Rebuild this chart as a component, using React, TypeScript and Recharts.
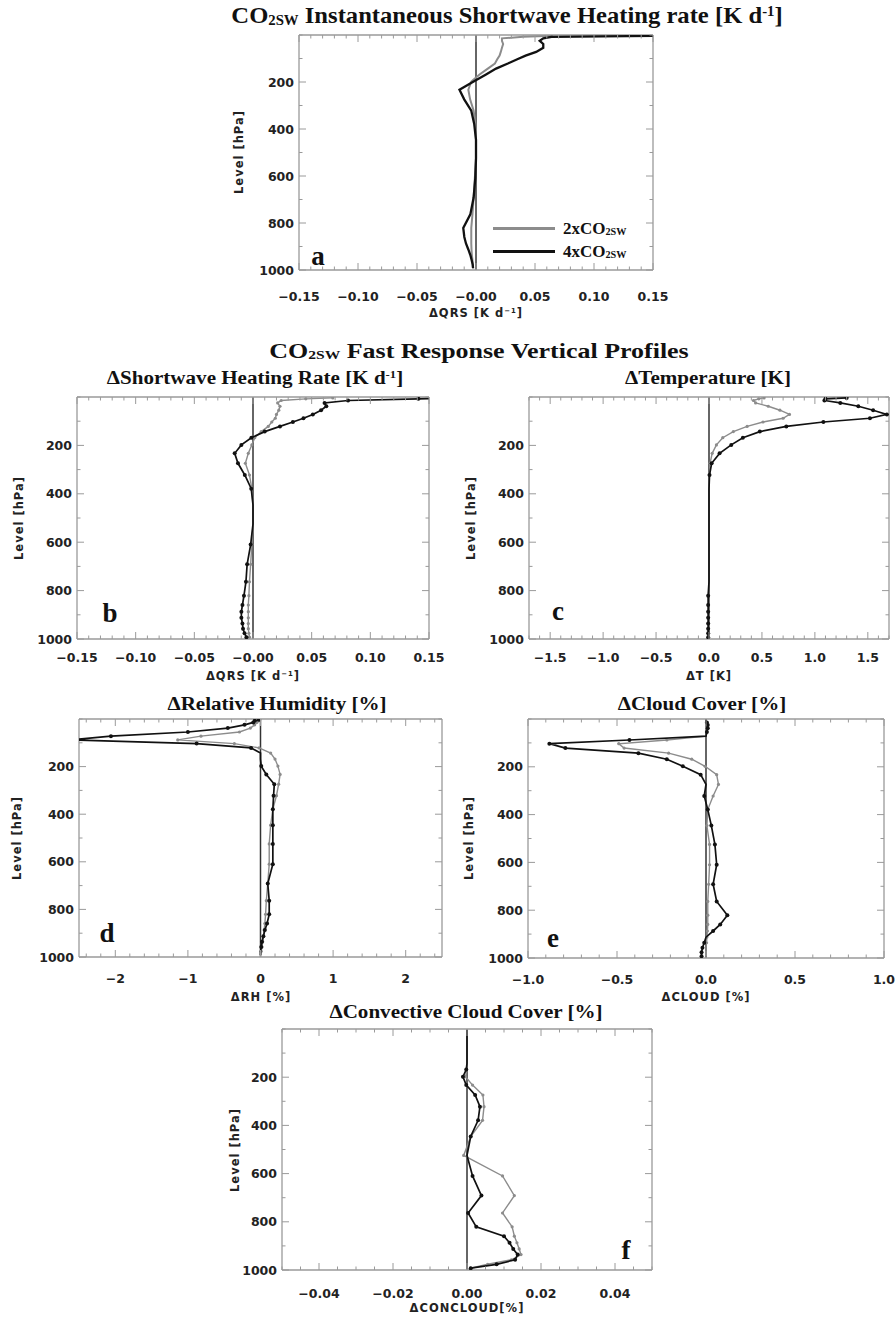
import React from "react";
import { ScatterChart, Scatter, XAxis, YAxis, ReferenceLine } from "recharts";

// model mid-levels (hPa)
const levels = [3.64, 7.59, 14.36, 24.61, 38.27, 54.6, 72.01, 87.82, 103.32, 121.55, 142.99, 168.23, 197.91, 232.83, 273.91, 322.24, 379.1, 445.99, 524.69, 609.78, 691.39, 763.4, 820.86, 859.53, 887.02, 912.64, 936.2, 957.49, 976.33, 992.56];

// a: instantaneous QRS
const qrsInst2x = [0.065, 0.04, 0.022, 0.022, 0.023, 0.022, 0.021, 0.02, 0.018, 0.016, 0.01, 0.003, -0.004, -0.0065, -0.005, -0.002, -0.0005, 0, 0, -0.001, -0.002, -0.003, -0.004, -0.004, -0.004, -0.0038, -0.0035, -0.003, -0.0028, -0.0025];
const qrsInst4x = [0.16, 0.064, 0.057, 0.054, 0.057, 0.057, 0.051, 0.042, 0.035, 0.027, 0.017, 0.0085, -0.002, -0.014, -0.01, -0.004, -0.0015, 0, 0, -0.0006, -0.002, -0.0048, -0.0108, -0.0099, -0.0085, -0.0065, -0.0048, -0.0037, -0.0028, -0.0025];

// b: fast response QRS
const qrs2x = [0.068, 0.045, 0.024, 0.021, 0.023, 0.022, 0.02, 0.019, 0.016, 0.013, 0.007, 0.0015, -0.001, -0.004, -0.0065, -0.003, -0.001, 0, 0, -0.001, -0.002, -0.003, -0.0035, -0.004, -0.004, -0.004, -0.004, -0.004, -0.0035, -0.003];
const qrs4x = [0.17, 0.141, 0.081, 0.061, 0.0625, 0.058, 0.051, 0.043, 0.034, 0.023, 0.01, -0.0014, -0.0099, -0.0156, -0.0128, -0.007, -0.0015, 0, 0, -0.002, -0.005, -0.006, -0.0077, -0.009, -0.0099, -0.0099, -0.009, -0.0085, -0.0072, -0.0056];

// c: temperature
const t2x = [0.52, 0.47, 0.42, 0.44, 0.56, 0.67, 0.76, 0.7, 0.51, 0.36, 0.23, 0.13, 0.07, 0.03, 0.01, 0.003, 0, 0, 0, 0, 0, 0, -0.005, -0.005, -0.005, -0.005, -0.005, -0.005, -0.005, -0.005];
const t4x = [1.3, 1.1, 1.09, 1.24, 1.41, 1.55, 1.68, 1.52, 1.08, 0.73, 0.48, 0.32, 0.21, 0.1, 0.025, 0.005, 0, 0, 0, 0, 0, 0, -0.008, -0.008, -0.008, -0.008, -0.008, -0.008, -0.008, -0.008];

// d: relative humidity
const rh2x = [-0.01, -0.03, -0.05, -0.08, -0.14, -0.29, -0.82, -1.14, -0.36, -0.02, 0.14, 0.2, 0.24, 0.27, 0.25, 0.22, 0.17, 0.14, 0.12, 0.12, 0.1, 0.08, 0.07, 0.06, 0.05, 0.04, 0.03, 0.02, 0.01, 0];
const rh4x = [-0.02, -0.08, -0.1, -0.22, -0.45, -1.0, -2.06, -2.62, -0.88, -0.13, 0, 0, 0.01, 0.08, 0.19, 0.18, 0.17, 0.17, 0.17, 0.17, 0.1, 0.12, 0.12, 0.09, 0.06, 0.04, 0.02, 0.01, 0, 0];

// e: cloud cover
const cld2x = [0, 0, 0, 0, 0, 0, 0, -0.22, -0.49, -0.46, -0.21, -0.08, -0.005, 0.06, 0.07, 0.04, 0.01, 0.005, 0.02, 0.02, 0.015, 0.01, 0.01, 0.01, 0.008, 0.005, 0.003, 0, 0, 0];
const cld4x = [0, 0, 0.005, 0.01, 0.01, 0.005, 0, -0.43, -0.88, -0.79, -0.38, -0.22, -0.13, -0.03, 0, -0.01, 0.01, 0.03, 0.05, 0.06, 0.04, 0.06, 0.12, 0.08, 0.04, 0, -0.01, -0.02, -0.025, -0.025];

// f: convective cloud cover
const conc2x = [0, 0, 0, 0, 0, 0, 0, 0, 0, 0, 0, 0, -0.0004, 0.0015, 0.0043, 0.0046, 0.0042, 0.001, -0.0009, 0.0096, 0.0128, 0.0096, 0.0122, 0.0128, 0.0135, 0.0141, 0.0146, 0.012, 0.0056, 0.001];
const conc4x = [0, 0, 0, 0, 0, 0, 0, 0, 0, 0, 0, -0.0002, -0.0011, -0.0002, 0.0022, 0.0035, 0.003, 0.001, 0, 0.0015, 0.0039, 0.0003, 0.0025, 0.01, 0.0115, 0.0125, 0.0137, 0.013, 0.008, 0.001];

// tick values and labels
const qrsTicks = [-0.15, -0.1, -0.05, 0, 0.05, 0.1, 0.15];
const qrsTickLabels = ["−0.15", "−0.10", "−0.05", "−0.00", "0.05", "0.10", "0.15"];
const tTicks = [-1.5, -1, -0.5, 0, 0.5, 1, 1.5];
const tTickLabels = ["−1.5", "−1.0", "−0.5", "0.0", "0.5", "1.0", "1.5"];
const rhTicks = [-2, -1, 0, 1, 2];
const rhTickLabels = ["−2", "−1", "0", "1", "2"];
const cldTicks = [-1, -0.5, 0, 0.5, 1];
const cldTickLabels = ["−1.0", "−0.5", "0.0", "0.5", "1.0"];
const concTicks = [-0.04, -0.02, 0, 0.02, 0.04];
const concTickLabels = ["−0.04", "−0.02", "0.00", "0.02", "0.04"];
const levelTicks = [200, 400, 600, 800, 1000];
const levelTickLabels = ["200", "400", "600", "800", "1000"];

const SERIF = '"Liberation Serif", "Times New Roman", serif';
const SANS = '"DejaVu Sans", sans-serif';
const BOX = "#9a9a9a";
const GRAY = "#8c8c8c";
const BLACK = "#111";

const ML = 50, MT = 8, MR = 28, MB = 40;

const stepTicks = (lo: number, hi: number, step: number) => {
  const out: number[] = [];
  const a = Math.ceil(lo / step - 1e-9);
  const b = Math.floor(hi / step + 1e-9);
  for (let i = a; i <= b; i++) out.push(Number((i * step).toFixed(6)));
  return out;
};
const idxOf = (arr: number[], v: number) => arr.findIndex((t) => Math.abs(t - v) < 1e-6);

const tickFont: React.CSSProperties = { fontFamily: SANS, fontSize: 12.5, fontWeight: 700, fill: "#222" };

const Txt = ({ x, y, sx = 1, style, children }: { x: number; y: number; sx?: number; style?: React.CSSProperties; children: React.ReactNode }) => (
  <div style={{ position: "absolute", left: x, top: y, transform: `translate(-50%, -50%) scaleX(${sx})`, whiteSpace: "nowrap", lineHeight: 1, ...style }}>
    {children}
  </div>
);
const Sub = ({ children }: { children: React.ReactNode }) => <span style={{ fontSize: "0.6em", verticalAlign: "-0.1em" }}>{children}</span>;
const Sup = ({ children }: { children: React.ReactNode }) => <span style={{ fontSize: "0.6em", verticalAlign: "0.55em" }}>{children}</span>;

const serifBold = (size: number): React.CSSProperties => ({ fontFamily: SERIF, fontWeight: 700, fontSize: size, color: "#111" });
const axisTitle: React.CSSProperties = { fontFamily: SANS, fontWeight: 700, fontSize: 11.5, color: "#222", letterSpacing: 1 };

interface PanelProps {
  left: number;
  top: number;
  w: number;
  h: number;
  xDomain: [number, number];
  xTicks: number[];
  xLabels: string[];
  xMinor: number;
  gray: number[];
  black: number[];
  dots: boolean;
  labelGap: number;
  lineWidth: number;
}

const Panel = (p: PanelProps) => {
  const grayData = levels.map((lev, i) => ({ x: p.gray[i], y: lev }));
  const blackData = levels.map((lev, i) => ({ x: p.black[i], y: lev }));
  const xAll = stepTicks(p.xDomain[0], p.xDomain[1], p.xMinor);
  const yAll = stepTicks(0, 1000, 100);
  const yMajor = (v: number) => idxOf(levelTicks, v);

  // no marker where the value sits exactly on zero
  const dot = (color: string, r: number) => (s: any) =>
    p.dots && s.payload && s.payload.x !== 0 ? <circle cx={s.cx} cy={s.cy} r={r} fill={color} /> : <g />;

  return (
    <div style={{ position: "absolute", left: p.left - ML, top: p.top - MT }}>
      <ScatterChart width={p.w + ML + MR} height={p.h + MT + MB} margin={{ top: MT - 1, right: MR - 1, bottom: MB - 1, left: ML - 1 }}>
        <XAxis
          type="number"
          dataKey="x"
          domain={p.xDomain}
          allowDataOverflow
          ticks={xAll}
          interval={0}
          height={1}
          tickSize={0}
          tickMargin={0}
          tickLine={false}
          axisLine={{ stroke: BOX, strokeWidth: 1.3 }}
          tick={(t: any) => {
            const i = idxOf(p.xTicks, t.payload.value);
            return (
              <g>
                <line x1={t.x} x2={t.x} y1={t.y} y2={t.y - (i >= 0 ? 7 : 3.5)} stroke={BOX} strokeWidth={1} />
                {i >= 0 && (
                  <text x={t.x} y={t.y + p.labelGap} textAnchor="middle" dominantBaseline="central" style={tickFont}>
                    {p.xLabels[i]}
                  </text>
                )}
              </g>
            );
          }}
        />
        <XAxis
          xAxisId="top"
          orientation="top"
          type="number"
          dataKey="x"
          domain={p.xDomain}
          allowDataOverflow
          ticks={xAll}
          interval={0}
          height={1}
          tickSize={0}
          tickMargin={0}
          tickLine={false}
          axisLine={{ stroke: BOX, strokeWidth: 1.3 }}
          tick={(t: any) => {
            const i = idxOf(p.xTicks, t.payload.value);
            return <line x1={t.x} x2={t.x} y1={t.y} y2={t.y + (i >= 0 ? 7 : 3.5)} stroke={BOX} strokeWidth={1} />;
          }}
        />
        <YAxis
          type="number"
          dataKey="y"
          domain={[0, 1000]}
          reversed
          allowDataOverflow
          ticks={yAll}
          interval={0}
          width={1}
          tickSize={0}
          tickMargin={0}
          tickLine={false}
          axisLine={{ stroke: BOX, strokeWidth: 1.3 }}
          tick={(t: any) => {
            const i = yMajor(t.payload.value);
            return (
              <g>
                <line x1={t.x} x2={t.x + (i >= 0 ? 7 : 3.5)} y1={t.y} y2={t.y} stroke={BOX} strokeWidth={1} />
                {i >= 0 && (
                  <text x={t.x - 5} y={t.y} textAnchor="end" dominantBaseline="central" style={tickFont}>
                    {levelTickLabels[i]}
                  </text>
                )}
              </g>
            );
          }}
        />
        <YAxis
          yAxisId="right"
          orientation="right"
          type="number"
          dataKey="y"
          domain={[0, 1000]}
          reversed
          allowDataOverflow
          ticks={yAll}
          interval={0}
          width={1}
          tickSize={0}
          tickMargin={0}
          tickLine={false}
          axisLine={{ stroke: BOX, strokeWidth: 1.3 }}
          tick={(t: any) => {
            const i = yMajor(t.payload.value);
            return <line x1={t.x} x2={t.x - (i >= 0 ? 7 : 3.5)} y1={t.y} y2={t.y} stroke={BOX} strokeWidth={1} />;
          }}
        />
        <ReferenceLine x={0} stroke="#333" strokeWidth={1.5} />
        <Scatter
          data={grayData}
          fill={GRAY}
          line={{ stroke: GRAY, strokeWidth: p.lineWidth }}
          lineJointType="linear"
          shape={dot(GRAY, 1.6)}
          isAnimationActive={false}
        />
        <Scatter
          data={blackData}
          fill={BLACK}
          line={{ stroke: BLACK, strokeWidth: p.lineWidth + 0.3 }}
          lineJointType="linear"
          shape={dot(BLACK, 2)}
          isAnimationActive={false}
        />
        {/* invisible copy so the top/right frame axes have data of their own */}
        <Scatter xAxisId="top" yAxisId="right" data={grayData} fill="none" shape={() => <g />} isAnimationActive={false} />
      </ScatterChart>
    </div>
  );
};

const LevelTitle = ({ x, y }: { x: number; y: number }) => (
  <Txt x={x} y={y} style={axisTitle}>
    <div style={{ transform: "rotate(-90deg)" }}>Level [hPa]</div>
  </Txt>
);

const Letter = ({ x, y, ch }: { x: number; y: number; ch: string }) => (
  <Txt x={x} y={y} style={serifBold(27)}>
    {ch}
  </Txt>
);

const PT = 18; // panel title size
const PSX = 1.17; // panel title horizontal stretch

export default function App() {
  return (
    <div style={{ position: "absolute", left: 0, top: 0, width: 896, height: 1318, background: "#fff" }}>
      {/* panel a */}
      <Txt x={507} y={16} sx={1.07} style={serifBold(23)}>
        CO<Sub>2SW</Sub> Instantaneous Shortwave Heating rate [K d<Sup>-1</Sup>]
      </Txt>
      <Panel left={299} top={35} w={354} h={235} xDomain={[-0.15, 0.15]} xTicks={qrsTicks} xLabels={qrsTickLabels} xMinor={0.01} gray={qrsInst2x} black={qrsInst4x} dots={false} labelGap={26} lineWidth={2} />
      <LevelTitle x={240} y={152} />
      <Txt x={476} y={314} style={axisTitle}>
        ΔQRS [K d<Sup>−1</Sup>]
      </Txt>
      <Letter x={318} y={256} ch="a" />
      <div style={{ position: "absolute", left: 493, top: 227, width: 62, height: 3, background: GRAY }} />
      <div style={{ position: "absolute", left: 493, top: 250, width: 62, height: 3, background: BLACK }} />
      <div style={{ position: "absolute", left: 563, top: 220, lineHeight: 1, whiteSpace: "nowrap", ...serifBold(17) }}>
        2xCO<Sub>2SW</Sub>
      </div>
      <div style={{ position: "absolute", left: 563, top: 243, lineHeight: 1, whiteSpace: "nowrap", ...serifBold(17) }}>
        4xCO<Sub>2SW</Sub>
      </div>

      <Txt x={479} y={351} sx={1.18} style={serifBold(22)}>
        CO<Sub>2SW</Sub> Fast Response Vertical Profiles
      </Txt>

      {/* panel b */}
      <Txt x={255} y={378} sx={PSX} style={serifBold(PT)}>
        ΔShortwave Heating Rate [K d<Sup>-1</Sup>]
      </Txt>
      <Panel left={77} top={397} w={352} h={242} xDomain={[-0.15, 0.15]} xTicks={qrsTicks} xLabels={qrsTickLabels} xMinor={0.01} gray={qrs2x} black={qrs4x} dots labelGap={18} lineWidth={1.4} />
      <LevelTitle x={20} y={518} />
      <Txt x={253} y={677} style={axisTitle}>
        ΔQRS [K d<Sup>−1</Sup>]
      </Txt>
      <Letter x={110} y={613} ch="b" />

      {/* panel c */}
      <Txt x={708} y={378} sx={PSX} style={serifBold(PT)}>
        ΔTemperature [K]
      </Txt>
      <Panel left={529} top={397} w={360} h={242} xDomain={[-1.7, 1.7]} xTicks={tTicks} xLabels={tTickLabels} xMinor={0.1} gray={t2x} black={t4x} dots labelGap={18} lineWidth={1.4} />
      <LevelTitle x={472} y={518} />
      <Txt x={709} y={677} style={axisTitle}>
        ΔT [K]
      </Txt>
      <Letter x={558} y={611} ch="c" />

      {/* panel d */}
      <Txt x={277} y={704} sx={PSX} style={serifBold(PT)}>
        ΔRelative Humidity [%]
      </Txt>
      <Panel left={79} top={719} w={363} h={238} xDomain={[-2.5, 2.5]} xTicks={rhTicks} xLabels={rhTickLabels} xMinor={0.2} gray={rh2x} black={rh4x} dots labelGap={21} lineWidth={1.4} />
      <LevelTitle x={18} y={838} />
      <Txt x={261} y={998} style={axisTitle}>
        ΔRH [%]
      </Txt>
      <Letter x={107} y={933} ch="d" />

      {/* panel e */}
      <Txt x={702} y={704} sx={PSX} style={serifBold(PT)}>
        ΔCloud Cover [%]
      </Txt>
      <Panel left={528} top={719} w={356} h={239} xDomain={[-1, 1]} xTicks={cldTicks} xLabels={cldTickLabels} xMinor={0.1} gray={cld2x} black={cld4x} dots labelGap={21} lineWidth={1.4} />
      <LevelTitle x={470} y={838} />
      <Txt x={706} y={998} style={axisTitle}>
        ΔCLOUD [%]
      </Txt>
      <Letter x={553} y={938} ch="e" />

      {/* panel f */}
      <Txt x={466} y={1012} sx={PSX} style={serifBold(PT)}>
        ΔConvective Cloud Cover [%]
      </Txt>
      <Panel left={282} top={1029} w={370} h={241} xDomain={[-0.05, 0.05]} xTicks={concTicks} xLabels={concTickLabels} xMinor={0.005} gray={conc2x} black={conc4x} dots labelGap={23} lineWidth={1.4} />
      <LevelTitle x={236} y={1150} />
      <Txt x={467} y={1309} style={axisTitle}>
        ΔCONCLOUD[%]
      </Txt>
      <Letter x={626} y={1250} ch="f" />
    </div>
  );
}
